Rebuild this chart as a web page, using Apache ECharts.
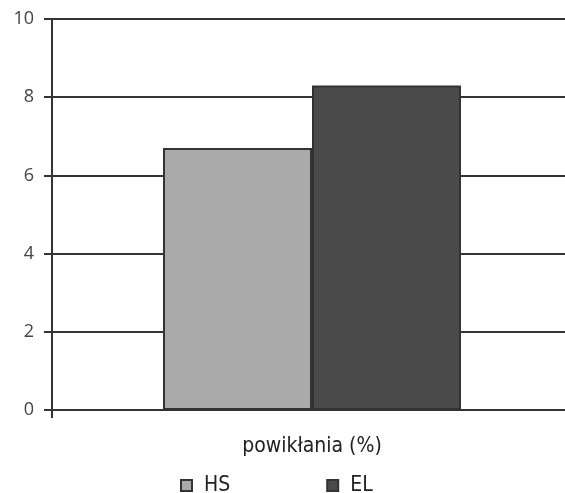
<!DOCTYPE html>
<html><head><meta charset="utf-8">
<script src="https://cdn.jsdelivr.net/npm/echarts@6/dist/echarts.min.js"></script>
<style>html,body{margin:0;padding:0;background:#fff}#c{width:565px;height:493px}</style>
</head><body><div id="c"></div>
<script>
const categories = ['powikłania (%)'];
const seriesNames = ['HS', 'EL'];
const hsValues = [6.7];
const elValues = [8.3];
const yTicks = [0, 2, 4, 6, 8, 10];

const chart = echarts.init(document.getElementById('c'));
const font = '"DejaVu Sans Condensed", "DejaVu Sans", sans-serif';
chart.setOption({
  animation: false,
  grid: { left: 52, width: 520, top: 19, height: 391, containLabel: false, outerBoundsMode: 'none' },
  xAxis: {
    type: 'category', data: categories,
    axisLine: { show: false },
    axisTick: { show: true, length: 8, lineStyle: { color: '#333', width: 2 } },
    axisLabel: { margin: 26, fontSize: 21, color: '#222', fontFamily: font }
  },
  yAxis: {
    type: 'value', min: yTicks[0], max: yTicks[yTicks.length-1], interval: 2,
    axisLine: { show: true, lineStyle: { color: '#333', width: 2 } },
    axisTick: { show: true, length: 8, lineStyle: { color: '#333', width: 2 } },
    axisLabel: { margin: 18, fontSize: 18, color: '#444', fontFamily: '"Open Sans", sans-serif' },
    splitLine: { show: true, lineStyle: { color: '#333', width: 2 } }
  },
  legend: {
    top: 470, left: 175, itemWidth: 11, itemHeight: 11, itemGap: 96,
    icon: 'rect',
    textStyle: { fontSize: 21, color: '#222', fontFamily: font, padding: [0, 0, 0, 7] },
    data: seriesNames
  },
  series: [
    { name: seriesNames[0], type: 'bar', data: hsValues, barWidth: 149, barGap: '0%',
      itemStyle: { color: '#aaaaaa', borderColor: '#333', borderWidth: 2 } },
    { name: seriesNames[1], type: 'bar', data: elValues, barWidth: 149, barGap: '0%',
      itemStyle: { color: '#4a4a4a', borderColor: '#333', borderWidth: 2 } }
  ]
});
</script></body></html>
